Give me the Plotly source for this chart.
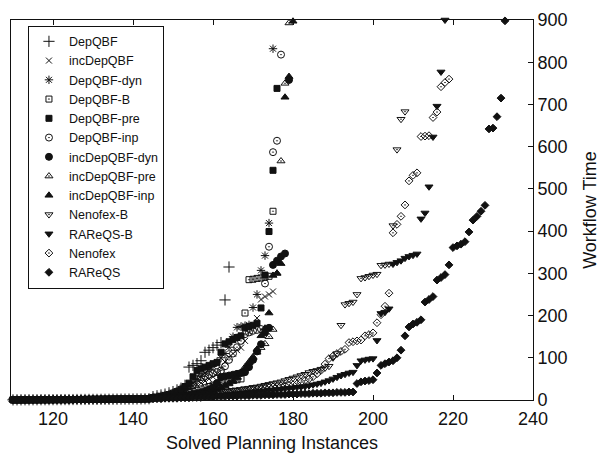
import plotly.graph_objects as go

# Cactus plot: x = number of solved instances, y = workflow time
X_START = 110  # first solved-instance index shown

# shared low band (x = 110..144), all solvers overlap here
LOW_BAND = [0.3, 0.4, 0.4, 0.5, 0.5, 0.6, 0.6, 0.7, 0.7, 0.8,
            0.8, 0.9, 0.9, 1.0, 1.0, 1.1, 1.2, 1.2, 1.3, 1.4,
            1.5, 1.5, 1.6, 1.7, 1.8, 1.9, 2.0, 2.1, 2.2, 2.3,
            2.4, 2.5, 2.6, 2.8, 3.0]

# per-solver values from x = 145 on
DEPQBF_TAIL = [8, 10, 12, 14, 17, 20, 24, 28, 35, 78, 82, 86, 93, 113, 118, 124,
               130, 136, 237, 315]
INCDEPQBF_TAIL = [6, 7, 8, 10, 12, 14, 17, 20, 24, 28, 32, 36, 40, 45, 50, 55, 62,
                  75, 90, 101, 110, 118, 124, 140, 160, 175, 194, 238, 245, 250, 257]
DEPQBF_DYN_TAIL = [7, 8, 10, 12, 14, 17, 20, 24, 28, 33, 40, 48, 56, 64, 72, 80, 90,
                   100, 110, 125, 150, 172, 174, 176, 178, 219, 250, 307, 342, 419, 832]
DEPQBF_B_TAIL = [5, 6, 7, 8, 9, 10, 12, 14, 16, 18, 20, 23, 26, 29, 32, 35, 38, 42,
                 45, 46, 47, 48, 50, 206, 285, 286, 288, 289, 291, 293, 447]
DEPQBF_PRE_TAIL = [6, 7, 9, 11, 13, 16, 20, 25, 32, 40, 55, 70, 74, 78, 82, 86, 89,
                   113, 133, 138, 143, 148, 152, 171, 174, 177, 182, 218, 296, 399,
                   544, 738]
DEPQBF_INP_TAIL = [5, 6, 7, 8, 10, 12, 14, 17, 20, 25, 35, 51, 54, 57, 60, 63, 66, 70,
                   80, 95, 110, 125, 140, 156, 160, 164, 166, 168, 276, 363, 587, 614,
                   818]
INCDEPQBF_DYN_TAIL = [4, 5, 5, 6, 7, 8, 9, 10, 11, 12, 14, 16, 18, 21, 25, 30, 40, 54,
                      56, 58, 60, 62, 64, 66, 78, 95, 115, 132, 160, 171, 320, 330,
                      340, 347, 758]
INCDEPQBF_PRE_TAIL = [4, 4, 5, 6, 6, 7, 8, 9, 10, 11, 12, 14, 16, 18, 20, 23, 26, 30,
                      35, 40, 46, 55, 65, 78, 90, 102, 113, 124, 133, 150, 167, 300,
                      566, 750, 893]
INCDEPQBF_INP_TAIL = [3, 4, 4, 5, 5, 6, 7, 8, 9, 10, 11, 13, 15, 17, 19, 22, 25, 29,
                      33, 38, 44, 52, 62, 75, 88, 100, 120, 152, 170, 206, 295, 300,
                      323, 717, 766, 897]
NENOFEX_B_TAIL = [5, 6, 6, 7, 7, 8, 9, 10, 11, 12,
                  13, 14, 15, 16, 17, 18, 19, 20, 21, 22,
                  23, 24, 25, 27, 28, 30, 31, 33, 35, 37,
                  39, 41, 43, 46, 49, 52, 55, 58, 61, 65,
                  68, 70, 73, 76, 80, 100, 110, 177, 226, 229,
                  232, 250, 288, 290, 293, 296, 298, 319, 320, 322,
                  413, 593, 665, 683]
RAREQS_B_TAIL = [4, 4, 5, 5, 5, 6, 6, 7, 7, 8,
                 8, 9, 9, 10, 10, 11, 11, 12, 12, 13,
                 14, 15, 16, 17, 18, 19, 20, 21, 22, 23,
                 24, 25, 26, 27, 28, 29, 30, 31, 32, 34,
                 36, 38, 40, 43, 46, 50, 54, 58, 61, 64,
                 66, 82, 93, 95, 97, 98, 141, 205, 208, 216,
                 322, 326, 330, 336, 340, 343, 346, 429, 443, 505,
                 623, 696, 777, 900]
NENOFEX_TAIL = [4, 5, 5, 6, 6, 7, 7, 8, 8, 9,
                10, 11, 12, 13, 14, 15, 16, 17, 18, 19,
                20, 21, 22, 23, 24, 25, 26, 27, 28, 30,
                31, 32, 33, 34, 35, 36, 38, 42, 46, 50,
                55, 62, 70, 85, 98, 104, 110, 115, 120, 136,
                138, 140, 142, 152, 155, 159, 183, 202, 222, 253,
                396, 416, 435, 462, 519, 532, 538, 624, 625, 626,
                669, 682, 742, 752, 760]
RAREQS_TAIL = [3, 3, 3, 4, 4, 4, 4, 5, 5, 5,
               6, 6, 6, 7, 7, 7, 8, 8, 8, 9,
               9, 9, 10, 10, 10, 11, 11, 11, 12, 12,
               12, 13, 13, 13, 14, 14, 14, 15, 15, 15,
               16, 16, 16, 17, 17, 17, 18, 18, 18, 19,
               19, 39, 43, 45, 46, 48, 64, 82, 86, 90,
               93, 100, 118, 152, 173, 180, 184, 190, 232, 238,
               245, 284, 290, 297, 320, 361, 365, 369, 375, 398,
               426, 435, 447, 461, 642, 644, 671, 715, 898]

SERIES = [
    ("DepQBF", DEPQBF_TAIL, "cross-thin-open", 8),
    ("incDepQBF", INCDEPQBF_TAIL, "x-thin-open", 6),
    ("DepQBF-dyn", DEPQBF_DYN_TAIL, "asterisk-open", 7),
    ("DepQBF-B", DEPQBF_B_TAIL, "square-open-dot", 6),
    ("DepQBF-pre", DEPQBF_PRE_TAIL, "square", 6),
    ("DepQBF-inp", DEPQBF_INP_TAIL, "circle-open-dot", 7),
    ("incDepQBF-dyn", INCDEPQBF_DYN_TAIL, "circle", 7),
    ("incDepQBF-pre", INCDEPQBF_PRE_TAIL, "triangle-up-open-dot", 7),
    ("incDepQBF-inp", INCDEPQBF_INP_TAIL, "triangle-up", 7),
    ("Nenofex-B", NENOFEX_B_TAIL, "triangle-down-open-dot", 7),
    ("RAReQS-B", RAREQS_B_TAIL, "triangle-down", 7),
    ("Nenofex", NENOFEX_TAIL, "diamond-open-dot", 6),
    ("RAReQS", RAREQS_TAIL, "diamond", 6),
]

X_TICKS = [120, 140, 160, 180, 200, 220, 240]
Y_TICKS = [0, 100, 200, 300, 400, 500, 600, 700, 800, 900]

FONT = "Liberation Sans"

fig = go.Figure()
for name, tail, symbol, size in SERIES:
    ys = LOW_BAND + tail
    xs = list(range(X_START, X_START + len(ys)))
    fig.add_trace(go.Scatter(
        x=xs, y=ys, mode="markers", name=name, cliponaxis=False,
        marker=dict(symbol=symbol, size=size, color="#111111",
                    line=dict(width=1, color="#111111")),
    ))

fig.update_layout(
    width=609, height=461,
    margin=dict(l=10, r=76, t=14, b=61),
    plot_bgcolor="white", paper_bgcolor="white",
    font=dict(family=FONT, color="#111111", size=18),
    showlegend=True,
    legend=dict(
        x=0.0325, y=0.985, xanchor="left", yanchor="top",
        bgcolor="white", bordercolor="#111111", borderwidth=1,
        font=dict(size=12.5, family=FONT), tracegroupgap=0, itemwidth=30,
    ),
    xaxis=dict(
        range=[109.5, 240], tickvals=X_TICKS, ticks="inside", ticklen=5,
        tickcolor="#111111", showline=True, linecolor="#111111", linewidth=1,
        mirror="ticks", showgrid=False, zeroline=False, ticklabelstandoff=2,
        title=dict(text="Solved Planning Instances", standoff=8,
                   font=dict(size=18, family=FONT)),
        tickfont=dict(size=18, family=FONT),
    ),
    yaxis=dict(
        range=[0, 900], tickvals=Y_TICKS, side="right", ticks="inside", ticklen=5,
        tickcolor="#111111", showline=True, linecolor="#111111", linewidth=1,
        mirror=True, showgrid=False, zeroline=False,
        title=dict(text="Workflow Time", standoff=16,
                   font=dict(size=18, family=FONT)),
        tickfont=dict(size=18, family=FONT),
    ),
)

fig.write_html("out.html", config={"displayModeBar": False},
               post_script="document.body.style.margin='0px';")
